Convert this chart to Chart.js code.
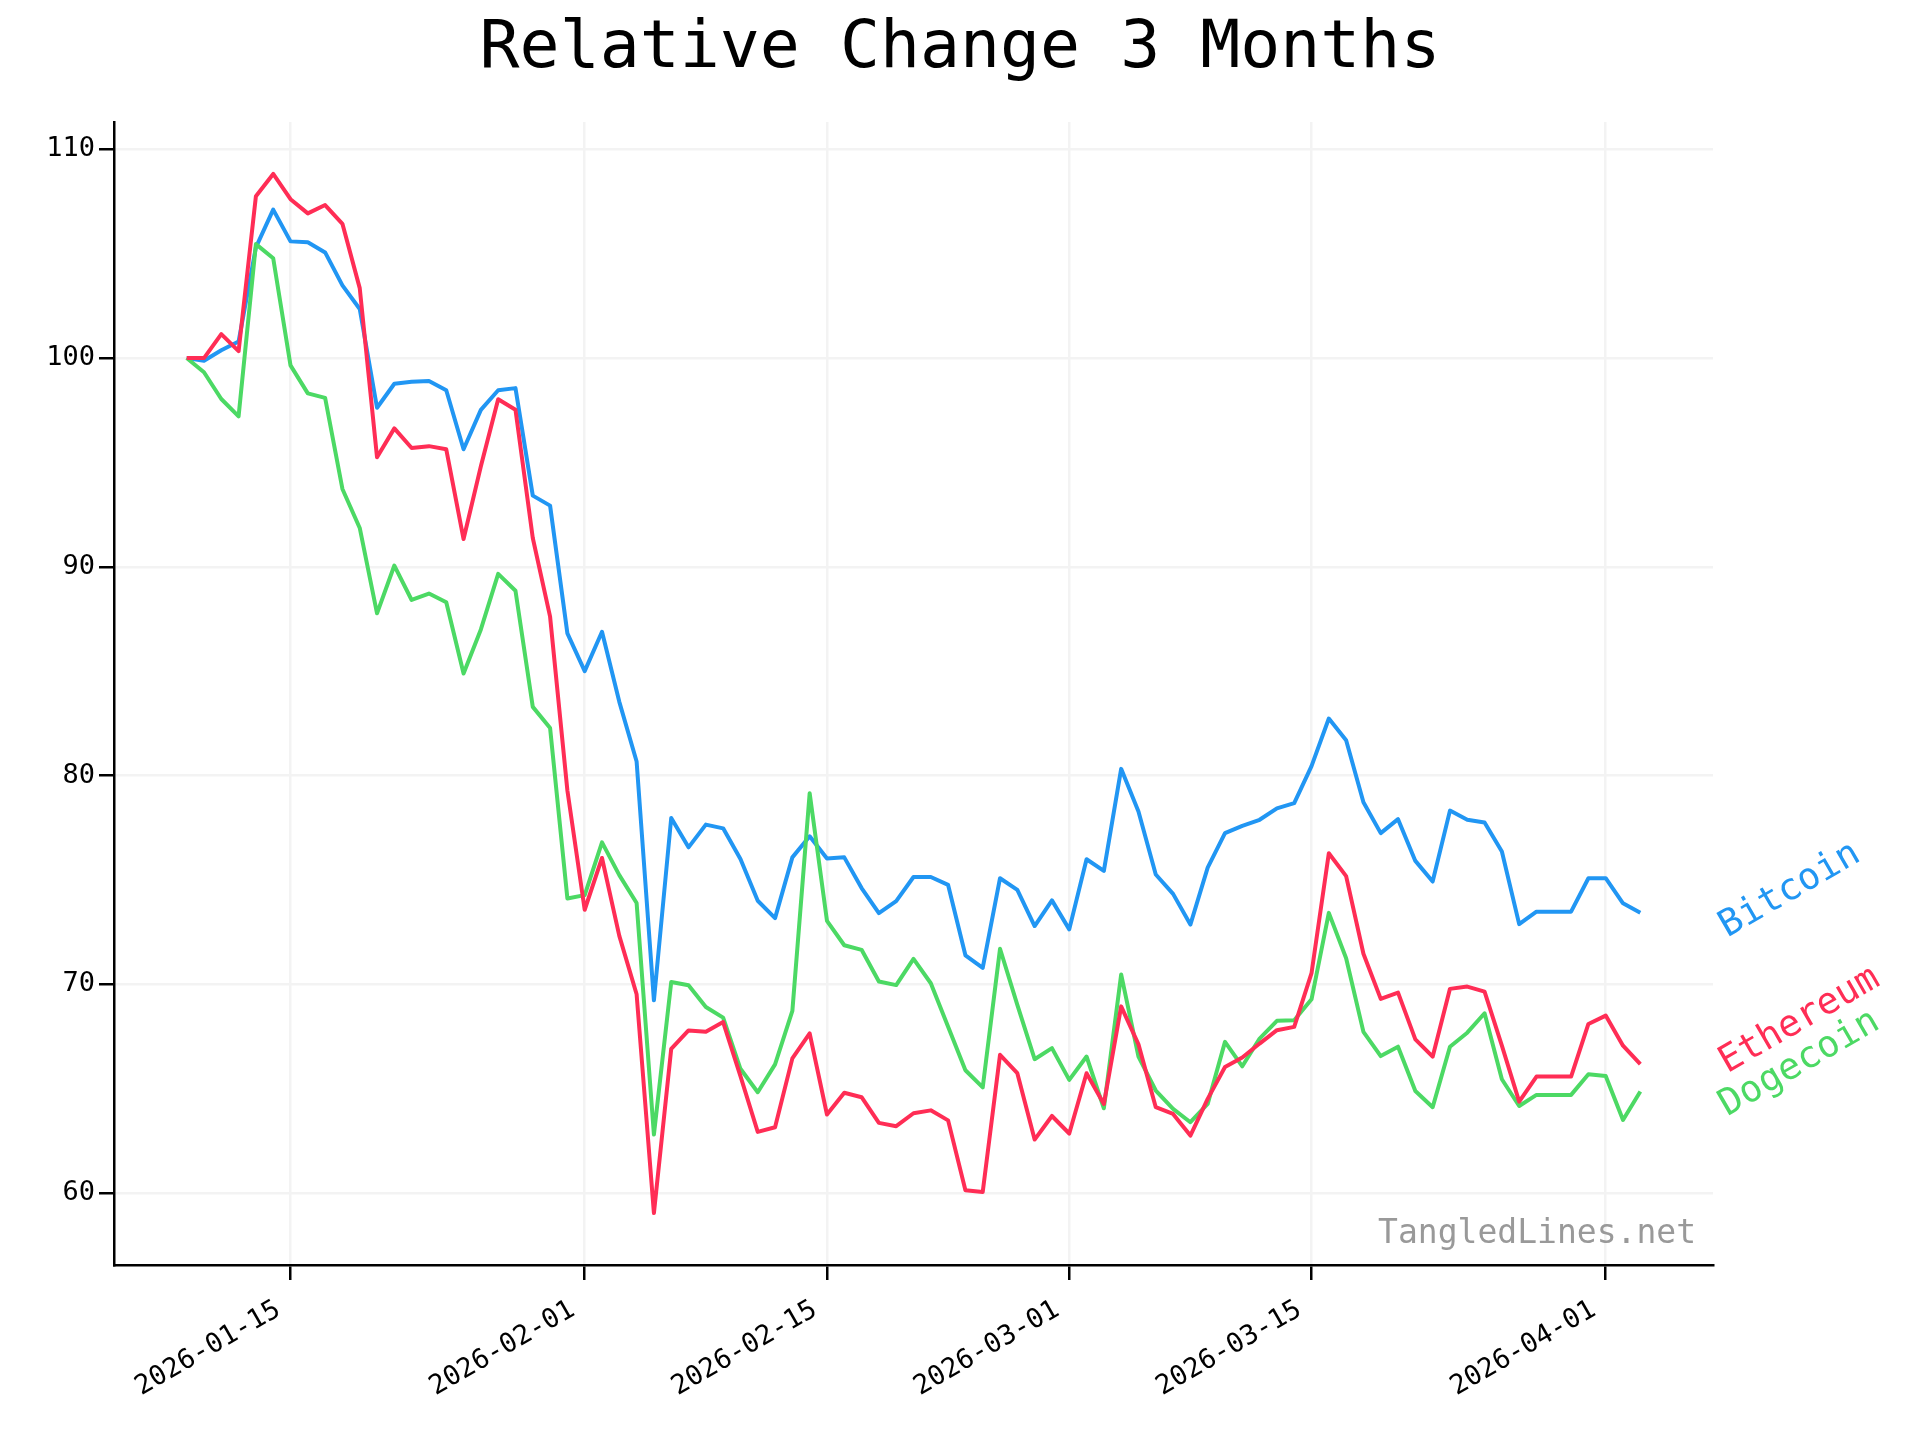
<!DOCTYPE html>
<html>
<head>
<meta charset="utf-8">
<title>Relative Change 3 Months</title>
<script src="https://cdn.jsdelivr.net/npm/chart.js@4.4.1/dist/chart.umd.min.js"></script>
<style>
  html, body { margin: 0; padding: 0; background: #fff; }
  #wrap { width: 1920px; height: 1440px; }
</style>
</head>
<body>
<div id="wrap"><canvas id="chart" width="1920" height="1440"></canvas></div>
<script>
// data, one value per day starting at startDate
const startDate = '2026-01-09';
const xTickLabels = ['2026-01-15', '2026-02-01', '2026-02-15', '2026-03-01', '2026-03-15', '2026-04-01'];
const yTicks = [60, 70, 80, 90, 100, 110];
const seriesNames = ['Bitcoin', 'Ethereum', 'Dogecoin'];
const seriesColors = ['#2196f3', '#ff2d55', '#4cd964'];

const bitcoin = [
    100, 99.87, 100.37, 100.79, 105.3, 107.11, 105.59, 105.55, 105.06, 103.48,
    102.35, 97.62, 98.77, 98.86, 98.9, 98.46, 95.63, 97.52, 98.46, 98.56,
    93.41, 92.93, 86.81, 85.0, 86.89, 83.53, 80.67, 69.23, 77.97, 76.56,
    77.65, 77.47, 76.0, 74.0, 73.17, 76.08, 77.09, 76.03, 76.08, 74.61,
    73.41, 73.98, 75.14, 75.14, 74.76, 71.39, 70.79, 75.08, 74.52, 72.79,
    74.02, 72.63, 75.99, 75.43, 80.32, 78.28, 75.26, 74.33, 72.86, 75.59,
    77.24, 77.59, 77.88, 78.43, 78.68, 80.45, 82.73, 81.69, 78.72, 77.24,
    77.91, 75.91, 74.92, 78.32, 77.88, 77.75, 76.36, 72.88, 73.48, 73.48,
    73.48, 75.08, 75.08, 73.88, 73.43
];
const ethereum = [
    100, 100, 101.15, 100.33, 107.75, 108.82, 107.61, 106.93, 107.33, 106.43,
    103.35, 95.25, 96.63, 95.69, 95.78, 95.63, 91.33, 94.82, 98.03, 97.52,
    91.38, 87.61, 79.28, 73.57, 76.05, 72.32, 69.52, 59.04, 66.91, 67.79,
    67.73, 68.19, 65.6, 62.93, 63.15, 66.45, 67.65, 63.76, 64.8, 64.59,
    63.36, 63.2, 63.82, 63.96, 63.48, 60.13, 60.05, 66.62, 65.74, 62.56,
    63.69, 62.85, 65.74, 64.26, 68.94, 67.12, 64.11, 63.79, 62.75, 64.51,
    66.04, 66.49, 67.16, 67.8, 67.96, 70.53, 76.28, 75.18, 71.46, 69.3,
    69.6, 67.36, 66.53, 69.78, 69.89, 69.65, 67.06, 64.38, 65.58, 65.58,
    65.58, 68.1, 68.5, 67.06, 66.18
];
const dogecoin = [
    100, 99.32, 98.04, 97.21, 105.46, 104.78, 99.65, 98.31, 98.09, 93.73,
    91.86, 87.77, 90.06, 88.41, 88.72, 88.3, 84.89, 87.0, 89.66, 88.85,
    83.29, 82.28, 74.11, 74.27, 76.8, 75.23, 73.89, 62.8, 70.11, 69.95,
    68.91, 68.4, 65.95, 64.83, 66.16, 68.72, 79.15, 73.04, 71.87, 71.65,
    70.13, 69.96, 71.22, 70.05, 67.97, 65.88, 65.06, 71.7, 69.01, 66.41,
    66.94, 65.42, 66.54, 64.06, 70.47, 66.53, 64.91, 64.03, 63.39, 64.27,
    67.24, 66.07, 67.4, 68.25, 68.28, 69.28, 73.42, 71.25, 67.72, 66.56,
    67.01, 64.89, 64.11, 67.01, 67.68, 68.61, 65.45, 64.17, 64.7, 64.7,
    64.7, 65.69, 65.61, 63.5, 64.86
];

const FONT = "'DejaVu Sans Mono', monospace";
const DAY = 24 * 3600 * 1000;

function dayOffset(dateStr) {
    return Math.round((Date.parse(dateStr + 'T00:00:00Z') - Date.parse(startDate + 'T00:00:00Z')) / DAY);
}

function toPoints(values) {
    return values.map((v, i) => ({ x: i, y: v }));
}

const allSeries = [bitcoin, ethereum, dogecoin];
const lastDay = bitcoin.length - 1;
const xPad = lastDay * 0.05;
const allValues = [].concat(...allSeries);
const yMinData = Math.min(...allValues);
const yMaxData = Math.max(...allValues);
const yPad = (yMaxData - yMinData) * 0.05;
const tickDays = xTickLabels.map(dayOffset);

// title, watermark and the rotated end-of-line labels
const decorations = {
    id: 'decorations',
    afterDraw(chart) {
        const ctx = chart.ctx;
        const area = chart.chartArea;
        ctx.save();

        ctx.fillStyle = '#000';
        ctx.font = '66.5px ' + FONT;
        ctx.textAlign = 'center';
        ctx.textBaseline = 'alphabetic';
        ctx.fillText('Relative Change 3 Months', chart.width / 2, 67);

        ctx.fillStyle = '#999999';
        ctx.font = '33px ' + FONT;
        ctx.textAlign = 'right';
        ctx.textBaseline = 'middle';
        ctx.fillText('TangledLines.net', area.right - 17, area.bottom - 31);

        const xs = chart.scales.x;
        const ys = chart.scales.y;
        const items = allSeries.map((s, i) => ({
            name: seriesNames[i],
            color: seriesColors[i],
            y: ys.getPixelForValue(s[s.length - 1]) + 25
        })).sort((a, b) => a.y - b.y);
        // keep labels from overlapping by pushing the upper one up
        for (let i = items.length - 1; i > 0; i--) {
            if (items[i].y - items[i - 1].y < 43) items[i - 1].y = items[i].y - 43;
        }
        const lx = xs.getPixelForValue(lastDay) + 87;
        ctx.font = '37px ' + FONT;
        ctx.textAlign = 'left';
        ctx.textBaseline = 'alphabetic';
        items.forEach(it => {
            ctx.save();
            ctx.translate(lx, it.y);
            ctx.rotate(-Math.PI / 6);
            ctx.fillStyle = it.color;
            ctx.fillText(it.name, 0, 0);
            ctx.restore();
        });
        ctx.restore();
    }
};

const ctx = document.getElementById('chart').getContext('2d');
new Chart(ctx, {
    type: 'line',
    data: {
        datasets: allSeries.map((s, i) => ({
            label: seriesNames[i],
            data: toPoints(s),
            borderColor: seriesColors[i],
            backgroundColor: seriesColors[i],
            borderWidth: 4,
            borderJoinStyle: 'round',
            pointRadius: 0,
            tension: 0,
            fill: false,
            order: [2, 0, 1][i]
        }))
    },
    options: {
        responsive: false,
        animation: false,
        devicePixelRatio: 1,
        layout: { padding: { left: 0, right: 207, top: 122, bottom: 0 } },
        plugins: {
            legend: { display: false },
            title: { display: false },
            tooltip: { enabled: false }
        },
        scales: {
            x: {
                type: 'linear',
                min: -xPad,
                max: lastDay + xPad,
                afterBuildTicks: (scale) => { scale.ticks = tickDays.map(v => ({ value: v })); },
                afterFit: (scale) => { scale.height = 175; },
                ticks: {
                    autoSkip: false,
                    maxRotation: 30,
                    minRotation: 30,
                    padding: 14,
                    labelOffset: -12,
                    color: '#000',
                    font: { family: FONT, size: 27 },
                    callback: (value, index) => xTickLabels[index]
                },
                grid: {
                    color: '#f3f3f3',
                    lineWidth: 2.5,
                    tickColor: '#000',
                    tickLength: 15,
                    tickWidth: 2.5
                },
                border: { display: true, color: '#000', width: 2.5 }
            },
            y: {
                type: 'linear',
                min: yMinData - yPad,
                max: yMaxData + yPad,
                afterBuildTicks: (scale) => { scale.ticks = yTicks.map(v => ({ value: v })); },
                afterFit: (scale) => { scale.width = 114; },
                ticks: {
                    padding: 4,
                    color: '#000',
                    font: { family: FONT, size: 27 },
                    callback: (value) => String(value)
                },
                grid: {
                    color: '#f3f3f3',
                    lineWidth: 2.5,
                    tickColor: '#000',
                    tickLength: 15,
                    tickWidth: 2.5
                },
                border: { display: true, color: '#000', width: 2.5 }
            }
        }
    },
    plugins: [decorations]
});
</script>
</body>
</html>
